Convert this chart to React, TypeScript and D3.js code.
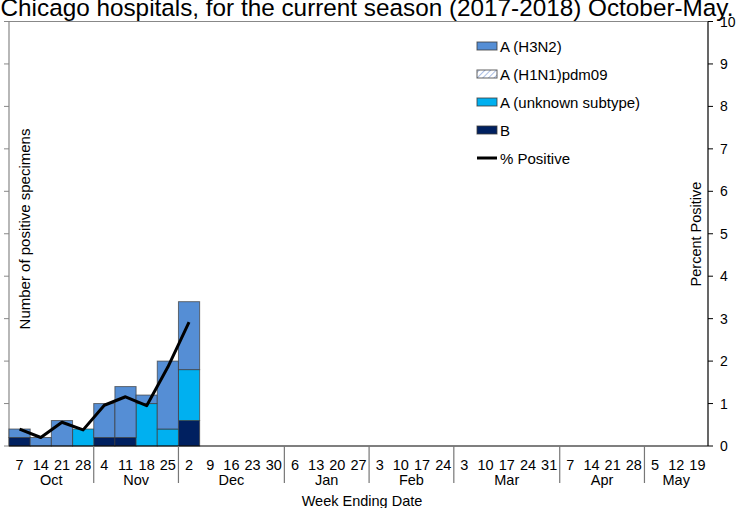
import React from 'react';
import * as d3 from 'd3';

const weeks = [
  '7', '14', '21', '28',
  '4', '11', '18', '25',
  '2', '9', '16', '23', '30',
  '6', '13', '20', '27',
  '3', '10', '17', '24',
  '3', '10', '17', '24', '31',
  '7', '14', '21', '28',
  '5', '12', '19',
];
const months = ['Oct', 'Nov', 'Dec', 'Jan', 'Feb', 'Mar', 'Apr', 'May'];
const monthWeeks = [4, 4, 5, 4, 4, 5, 4, 3];

// counts per week (only first 9 weeks have data)
const h3n2 = [1, 1, 3, 0, 4, 6, 1, 8, 8];
const h1n1 = [0, 0, 0, 0, 0, 0, 0, 0, 0];
const unknown = [0, 0, 0, 2, 0, 0, 5, 2, 6];
const fluB = [1, 0, 0, 0, 1, 1, 0, 0, 3];
const pctPositive = [0.4, 0.2, 0.56, 0.38, 0.96, 1.16, 0.95, 1.86, 2.92];

const leftTicks = [0, 5, 10, 15, 20, 25, 30, 35, 40, 45, 50];
const rightTicks = [0, 1, 2, 3, 4, 5, 6, 7, 8, 9, 10];

const W = 747;
const H = 508;
const m = { left: 9, right: 708, top: 21.5, bottom: 446 };
const font = 'Liberation Sans, Arial, sans-serif';

const series = [
  { key: 'b', label: 'B', values: fluB, color: '#002060' },
  { key: 'unk', label: 'A (unknown subtype)', values: unknown, color: '#00B0F0' },
  { key: 'h1', label: 'A (H1N1)pdm09', values: h1n1, color: 'url(#hatch)' },
  { key: 'h3', label: 'A (H3N2)', values: h3n2, color: '#558ED5' },
];

export default function App() {
  const x = d3.scaleBand<number>().domain(d3.range(weeks.length)).range([m.left, m.right]).padding(0);
  const yL = d3.scaleLinear().domain([0, 50]).range([m.bottom, m.top]);
  const yR = d3.scaleLinear().domain([0, 10]).range([m.bottom, m.top]);

  const rows = h3n2.map((_, i) => {
    const r: Record<string, number> = { i };
    series.forEach((s) => (r[s.key] = s.values[i]));
    return r;
  });
  const stacked = d3.stack<Record<string, number>>().keys(series.map((s) => s.key))(rows);

  const line = d3
    .line<number>()
    .x((_, i) => (x(i) as number) + x.bandwidth() / 2)
    .y((d) => yR(d));

  // month boundaries
  const starts: number[] = [];
  monthWeeks.reduce((acc, n) => {
    starts.push(acc);
    return acc + n;
  }, 0);

  const legendOrder = ['h3', 'h1', 'unk', 'b'];

  return (
    <div style={{ position: 'absolute', left: 0, top: 0 }}>
      <svg width={W} height={H} style={{ display: 'block', fontFamily: font }}>
        <defs>
          <pattern id="hatch" width="4" height="4" patternUnits="userSpaceOnUse" patternTransform="rotate(45)">
            <rect width="4" height="4" fill="#ffffff" />
            <line x1="0" y1="0" x2="0" y2="4" stroke="#8EA9DB" strokeWidth="1.5" />
          </pattern>
        </defs>
        <rect width={W} height={H} fill="#fff" />
        <text x={367} y={15.5} textAnchor="middle" fontSize={24.3} fill="#000">
          Chicago hospitals, for the current season (2017-2018) October-May.
        </text>

        {/* frame top */}
        <line x1={m.left} x2={m.right} y1={m.top} y2={m.top} stroke="#888" strokeWidth={1.2} />
        {/* left axis */}
        <line x1={m.left} x2={m.left} y1={m.top} y2={m.bottom} stroke="#888" strokeWidth={1.2} />
        {leftTicks.map((t) => (
          <line key={t} x1={m.left - 5} x2={m.left} y1={yL(t)} y2={yL(t)} stroke="#888" />
        ))}

        {/* bars */}
        {stacked.map((layer, li) => (
          <g key={layer.key}>
            {layer.map((d, i) =>
              d[1] - d[0] > 0 ? (
                <rect
                  key={i}
                  x={x(i) as number}
                  width={x.bandwidth()}
                  y={yL(d[1])}
                  height={yL(d[0]) - yL(d[1])}
                  fill={series[li].color}
                  stroke="#3a3a3a"
                  strokeOpacity={0.7}
                  strokeWidth={1}
                />
              ) : null
            )}
          </g>
        ))}

        <path d={line(pctPositive) as string} fill="none" stroke="#000" strokeWidth={3} strokeLinejoin="round" />

        {/* right axis */}
        <line x1={m.right} x2={m.right} y1={m.top} y2={m.bottom} stroke="#000" strokeWidth={1.2} />
        {rightTicks.map((t) => (
          <g key={t}>
            <line x1={m.right} x2={m.right + 5} y1={yR(t)} y2={yR(t)} stroke="#000" />
            <text x={m.right + 12} y={yR(t) + 5} fontSize={14} fill="#000">
              {t}
            </text>
          </g>
        ))}

        {/* x axis */}
        <line x1={m.left} x2={m.right} y1={m.bottom} y2={m.bottom} stroke="#000" strokeWidth={1.2} />
        {weeks.map((w, i) => (
          <text key={i} x={(x(i) as number) + x.bandwidth() / 2} y={470} textAnchor="middle" fontSize={14.5} fill="#000">
            {w}
          </text>
        ))}
        {months.map((mo, k) => {
          const s = starts[k];
          const e = s + monthWeeks[k];
          const x0 = x(s) as number;
          const x1 = e < weeks.length ? (x(e) as number) : m.right;
          return (
            <g key={mo}>
              {k > 0 && <line x1={x0} x2={x0} y1={m.bottom} y2={483} stroke="#777" strokeWidth={1.2} />}
              <text x={(x0 + x1) / 2} y={485} textAnchor="middle" fontSize={14.5} fill="#000">
                {mo}
              </text>
            </g>
          );
        })}
        <text x={362} y={506} textAnchor="middle" fontSize={14.5} fill="#000">
          Week Ending Date
        </text>

        <text transform={`translate(30,${229}) rotate(-90)`} textAnchor="middle" fontSize={15} fill="#000">
          Number of positive specimens
        </text>
        <text transform={`translate(701,${234}) rotate(-90)`} textAnchor="middle" fontSize={14.5} fill="#000">
          Percent Positive
        </text>

        {/* legend */}
        {legendOrder.map((k, i) => {
          const s = series.find((d) => d.key === k)!;
          const yy = 46 + i * 28;
          return (
            <g key={k}>
              <rect x={477} y={yy - 4} width={20} height={8} fill={s.color} stroke="#3a3a3a" strokeOpacity={0.8} />
              <text x={500} y={yy + 5.5} fontSize={15} fill="#000">
                {s.label}
              </text>
            </g>
          );
        })}
        <line x1={477} x2={497} y1={46 + 4 * 28} y2={46 + 4 * 28} stroke="#000" strokeWidth={3} />
        <text x={500} y={46 + 4 * 28 + 5.5} fontSize={15} fill="#000">
          % Positive
        </text>
      </svg>
    </div>
  );
}
